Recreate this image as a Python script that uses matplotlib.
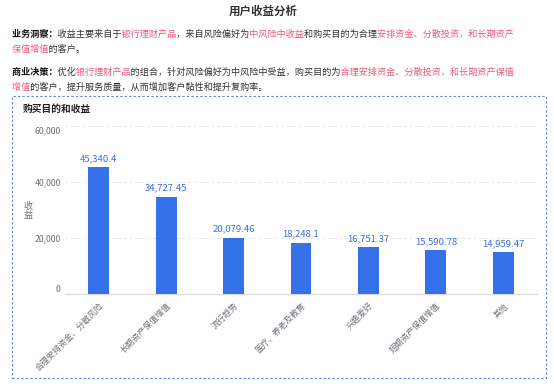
import matplotlib
matplotlib.use("Agg")
import matplotlib.pyplot as plt
from matplotlib.patches import Rectangle

plt.rcParams["font.family"] = ["Noto Sans CJK SC", "DejaVu Sans"]

# data
categories = ["合理安排资金、分散风险", "长期资产保值增值", "流行趋势", "医疗、养老及教育",
              "兴趣爱好", "短期资产保值增值", "其他"]
revenue = [45340.4, 34727.45, 20079.46, 18248.1, 16751.37, 15590.78, 14959.47]
value_labels = ["45,340.4", "34,727.45", "20,079.46", "18,248.1", "16,751.37", "15,590.78", "14,959.47"]
y_ticks = [0, 20000, 40000, 60000]
y_tick_labels = ["0", "20,000", "40,000", "60,000"]

W, H = 554, 386
BLUE = "#3572ea"
PINK = "#ee5a7e"
DARK = "#333333"
GRAY = "#6e7079"

fig = plt.figure(figsize=(W / 100, H / 100), dpi=100)


def rich_line(x, y, segs, size=6.55):
    # one layer per style; the other characters become ideographic spaces
    # so every layer lines up with the same full-width advances
    styles = []
    for _, color, bold in segs:
        if (color, bold) not in styles:
            styles.append((color, bold))
    for color, bold in styles:
        s = "".join(t if (c, b) == (color, bold) else "\u3000" * len(t) for t, c, b in segs)
        fig.text(x / W, 1 - y / H, s, color=color, fontsize=size,
                 fontweight="bold" if bold else "normal", ha="left", va="center")


fig.text(263 / W, 1 - 11 / H, "用户收益分析", ha="center", va="center",
         fontsize=8.3, fontweight="bold", color=DARK)

rich_line(12, 34, [("业务洞察：", "#111111", True), ("收益主要来自于", DARK, False),
                   ("银行理财产品", PINK, False), ("，来自风险偏好为", DARK, False),
                   ("中风险中收益", PINK, False), ("和购买目的为合理", DARK, False),
                   ("安排资金、分散投资，和长期资产", PINK, False)])
rich_line(12, 49, [("保值增值", PINK, False), ("的客户。", DARK, False)])
rich_line(12, 72, [("商业决策：", "#111111", True), ("优化", DARK, False),
                   ("银行理财产品", PINK, False),
                   ("的组合，针对风险偏好为中风险中受益，购买目的为", DARK, False),
                   ("合理安排资金、分散投资，和长期资产保值", PINK, False)])
rich_line(12, 87, [("增值", PINK, False), ("的客户，提升服务质量，从而增加客户黏性和提升复购率。", DARK, False)])

# dashed frame around the chart
fig.patches.append(Rectangle((12 / W, 1 - 378 / H), (546 - 12) / W, (378 - 96) / H,
                             transform=fig.transFigure, fill=False, edgecolor="#5b80e0",
                             linestyle=(0, (2, 2)), linewidth=0.8))
fig.text(23 / W, 1 - 109 / H, "购买目的和收益", ha="left", va="center",
         fontsize=7, fontweight="bold", color="#222222")

ax = fig.add_axes([65 / W, 1 - 294 / H, (537 - 65) / W, (294 - 126) / H])
x = range(len(categories))
bars = ax.bar(x, revenue, width=0.31, color=BLUE, zorder=3)
for b, lbl in zip(bars, value_labels):
    ax.annotate(lbl, (b.get_x() + b.get_width() / 2, b.get_height()), xytext=(0, 3),
                textcoords="offset points", ha="center", va="bottom", fontsize=6.8, color="#3b6fdc")

ax.set_xlim(-0.5, len(categories) - 0.5)
ax.set_ylim(0, 60000)
ax.set_yticks(y_ticks)
ax.set_yticklabels(y_tick_labels, fontsize=6.3, color=GRAY)
ax.set_xticks(list(x))
ax.set_xticklabels(categories, rotation=45, ha="right", va="top", rotation_mode="anchor",
                   fontsize=6, color=GRAY)
ax.tick_params(length=0, axis="y", pad=3)
ax.tick_params(length=0, axis="x", pad=5)
ylbls = ax.get_yticklabels()
ylbls[0].set_va("bottom")
ylbls[-1].set_va("top")
ax.grid(axis="y", linestyle=(0, (3, 3)), color="#e3e3e3", linewidth=0.7, zorder=0)
for s in ["top", "right", "left"]:
    ax.spines[s].set_visible(False)
ax.spines["bottom"].set_color("#dcdcdc")
ax.spines["bottom"].set_linewidth(1)

fig.text(28 / W, 1 - 211 / H, "收\n益", ha="center", va="center", fontsize=6.6,
         color=GRAY, linespacing=1.1)

fig.savefig("out.png", dpi=100)
